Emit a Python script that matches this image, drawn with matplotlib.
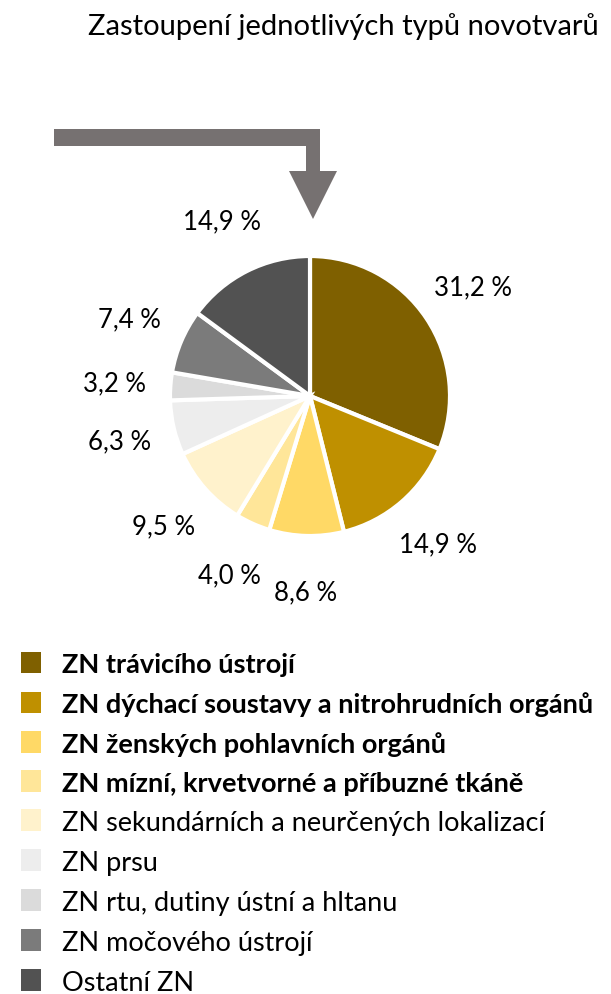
import numpy as np
import matplotlib.pyplot as plt
from matplotlib.patches import Patch, Polygon

plt.rcParams['font.family'] = ['Lato', 'DejaVu Sans']

# data
kategorie = ["ZN trávicího ústrojí",
             "ZN dýchací soustavy a nitrohrudních orgánů",
             "ZN ženských pohlavních orgánů",
             "ZN mízní, krvetvorné a příbuzné tkáně",
             "ZN sekundárních a neurčených lokalizací",
             "ZN prsu",
             "ZN rtu, dutiny ústní a hltanu",
             "ZN močového ústrojí",
             "Ostatní ZN"]
podil = [31.2, 14.9, 8.6, 4.0, 9.5, 6.3, 3.2, 7.4, 14.9]
tucne = [True, True, True, True, False, False, False, False, False]
barvy = ["#7F6000", "#BF9000", "#FFD966", "#FFE699", "#FFF2CC",
         "#EDEDED", "#DBDBDB", "#7B7B7B", "#525252"]

W, H = 611, 995
fig = plt.figure(figsize=(W/100, H/100), dpi=100)

# kolac
cx, cy, r = 310, 397, 140
ax = fig.add_axes([(cx-2*r)/W, (H-cy-2*r)/H, 4*r/W, 4*r/H])
popisky = [("%.1f %%" % v).replace(".", ",") for v in podil]
wedges, texts = ax.pie(podil, colors=barvy, startangle=90, counterclock=False,
                       labels=popisky, labeldistance=1.4,
                       wedgeprops=dict(edgecolor="white", linewidth=3),
                       textprops=dict(fontsize=18.5, color="#000000"))
for t in texts:
    t.set_ha("center")
    t.set_va("center")
ax.set_xlim(-2, 2)
ax.set_ylim(-2, 2)
ax.set_aspect("equal")
ax.axis("off")

# sipka a titulek v pixelovych souradnicich
ov = fig.add_axes([0, 0, 1, 1], zorder=-1)
ov.set_xlim(0, W)
ov.set_ylim(H, 0)
ov.axis("off")
sipka = Polygon([(54, 130), (320, 130), (320, 172), (337, 172), (313, 220),
                 (289, 172), (306, 172), (306, 147), (54, 147)],
                closed=True, facecolor="#767171", edgecolor="none")
ov.add_patch(sipka)
ov.text(343, 27, "Zastoupení jednotlivých typů novotvarů", ha="center",
        va="center", fontsize=21)

# legenda
handles = [Patch(facecolor=c, edgecolor="none") for c in barvy]
leg = fig.legend(handles, kategorie, loc="upper left",
                 bbox_to_anchor=(21/W, 1-653/H), frameon=False,
                 fontsize=19.5, handlelength=0.74, handleheight=0.84,
                 handletextpad=0.76, labelspacing=0.55, borderaxespad=0,
                 borderpad=0)
for t, b in zip(leg.get_texts(), tucne):
    if b:
        t.set_fontweight("bold")

fig.savefig("out.png", dpi=100)
